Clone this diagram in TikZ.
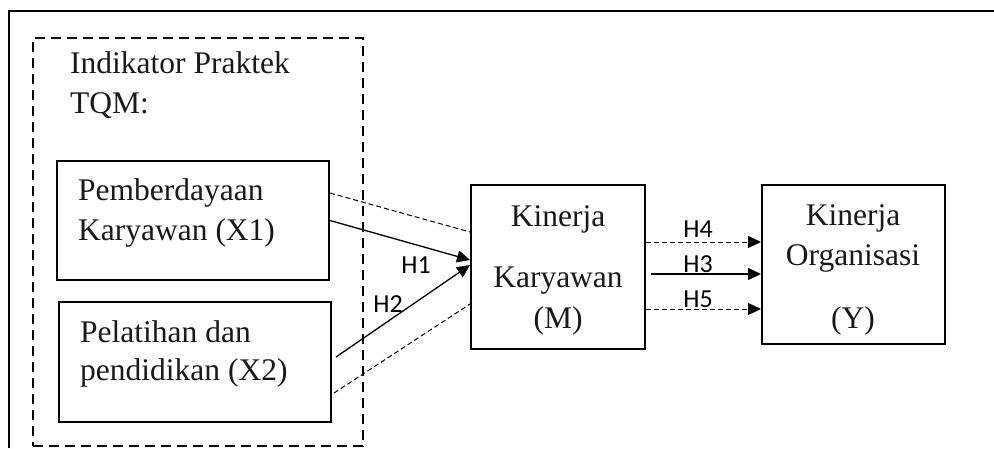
\documentclass[tikz,border=0pt]{standalone}
\usepackage{fontspec}
\setmainfont{Liberation Serif}
\newfontfamily\hfont{Carlito}
\usetikzlibrary{arrows.meta}
\begin{document}
\begin{tikzpicture}[x=1pt,y=-1pt,
  box/.style={draw, line width=2pt, inner sep=0pt},
  grpbox/.style={draw, line width=2pt, dash pattern=on 10pt off 6pt, inner sep=0pt},
  txt/.style={font=\fontsize{31.5}{40}\selectfont, inner sep=0pt, text=black!90},
  hlab/.style={font=\hfont\fontsize{26}{26}\selectfont, inner sep=0pt},
  arrowtip/.style={-{Triangle[length=13pt,width=12pt]}},
  solidarr/.style={line width=1.3pt, arrowtip},
  dasharr/.style={line width=1pt, dash pattern=on 5pt off 3pt},
  dasharrtip/.style={dasharr, arrowtip},
]
\useasboundingbox (0,0) rectangle (994,448);
% outer frame
\draw[line width=1.2pt] (9,448) -- (9,11) -- (994,11);
% group box
\node[grpbox, minimum width=330pt, minimum height=408pt] (grp) at (198,242) {};
\node[txt, anchor=base west] (ind1) at (70,73) {Indikator Praktek};
\node[txt, anchor=base west] (ind2) at (70,113) {TQM:};
% boxes
\node[box, minimum width=272pt, minimum height=119pt] (x1) at (193,220.5) {};
\node[txt, anchor=base west] (x1a) at (78,200) {Pemberdayaan};
\node[txt, anchor=base west] (x1b) at (78,240) {Karyawan (X1)};
\node[box, minimum width=272pt, minimum height=120pt] (x2) at (195,362) {};
\node[txt, anchor=base west] (x2a) at (80,342) {Pelatihan dan};
\node[txt, anchor=base west] (x2b) at (80,380) {pendidikan (X2)};
\node[box, minimum width=174pt, minimum height=164pt] (m) at (558,267) {};
\node[txt, anchor=base] (ma) at (558,226) {Kinerja};
\node[txt, anchor=base] (mb) at (558,287) {Karyawan};
\node[txt, anchor=base] (mc) at (558,328) {(M)};
\node[box, minimum width=183pt, minimum height=159pt] (y) at (853.5,264.5) {};
\node[txt, anchor=base] (ya) at (853,225) {Kinerja};
\node[txt, anchor=base] (yb) at (853,265) {Organisasi};
\node[txt, anchor=base] (yc) at (853,328) {(Y)};
% connectors X -> M
\draw[dasharr] ([yshift=27.5pt]x1.east) -- ([yshift=35pt]m.west);
\draw[solidarr] (x1.east) -- ([yshift=7pt]m.west);
\draw[solidarr] ([xshift=4pt,yshift=5pt]x2.east) -- ([yshift=2pt]m.west);
\draw[dasharr] ([xshift=2pt,yshift=-31pt]x2.east) -- ([yshift=-37pt]m.west);
% connectors M -> Y
\draw[dasharrtip] ([yshift=25pt]m.east) -- ([yshift=25pt]m.east -| y.west);
\draw[solidarr] ([xshift=5pt,yshift=-7pt]m.east) -- ([yshift=-7pt]m.east -| y.west);
\draw[dasharrtip] ([yshift=-42pt]m.east) -- ([yshift=-42pt]m.east -| y.west);
% labels
\node[hlab] (h1) at (416,265) {H1};
\node[hlab] (h2) at (388,304) {H2};
\node[hlab] (h4) at (698,229) {H4};
\node[hlab] (h3) at (698,264) {H3};
\node[hlab] (h5) at (698,299) {H5};
\end{tikzpicture}
\end{document}
